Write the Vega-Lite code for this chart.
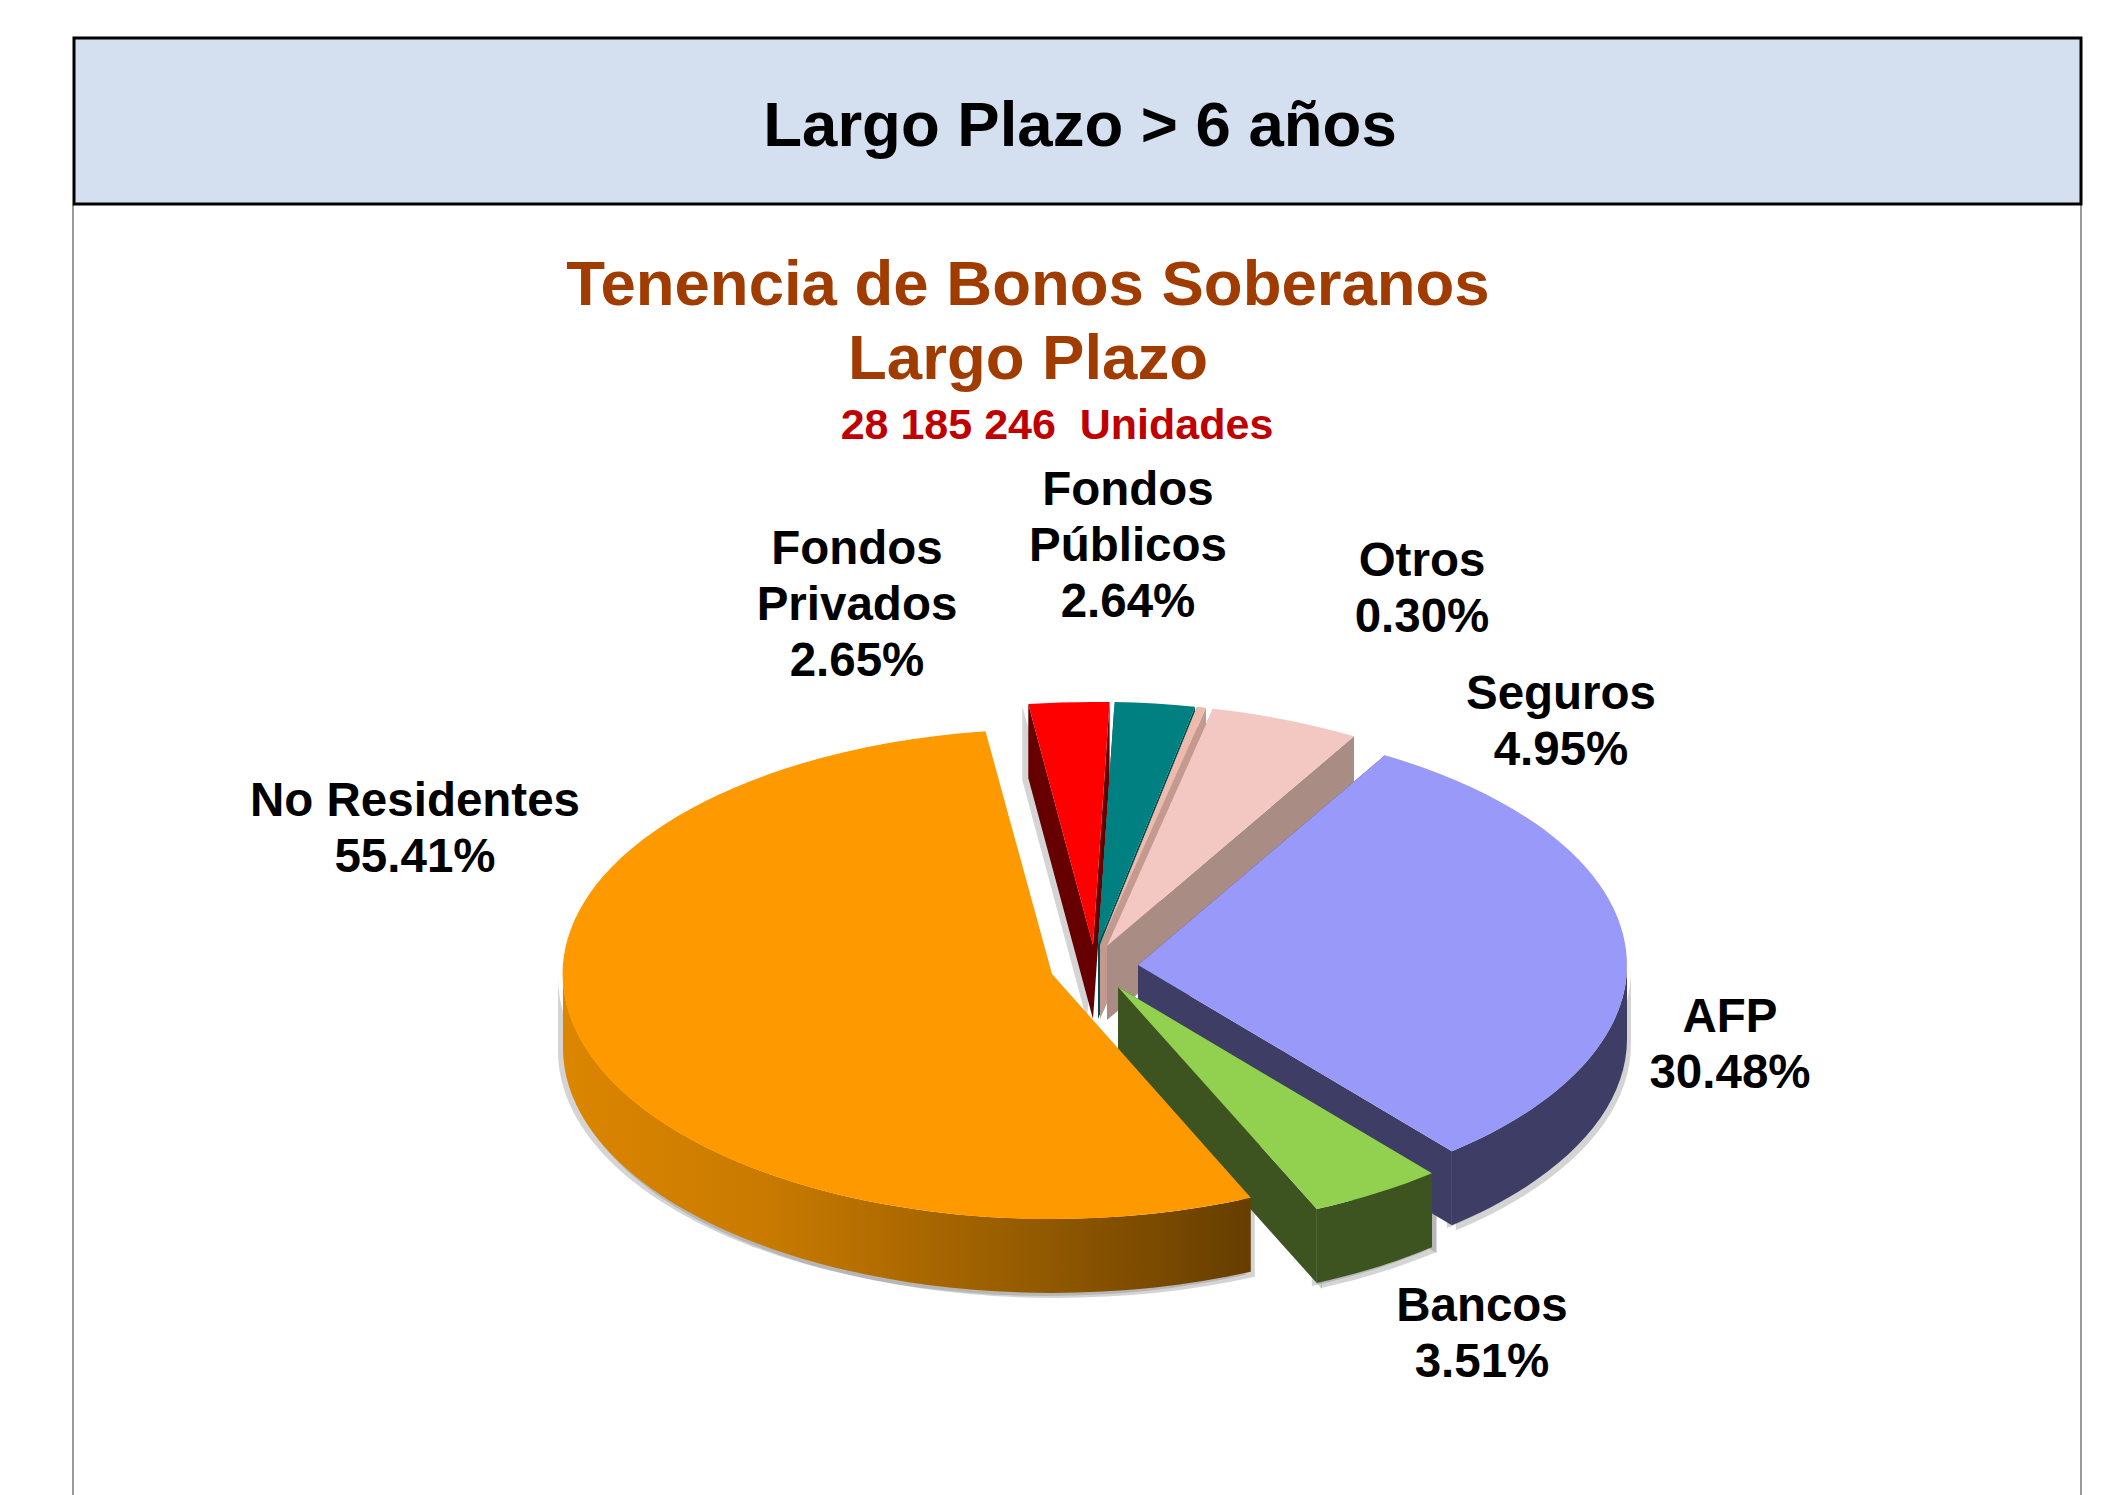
{
"$schema":"https://vega.github.io/schema/vega-lite/v6.json",
"width":2101,"height":1495,"padding":0,"autosize":{"type":"none"},"background":"#ffffff",
"view":{"stroke":null},
"config":{"text":{"font":"Liberation Sans","fontWeight":"bold"}},
"datasets":{
"sectors":[
{"sector":"Fondos Privados","share":2.65},
{"sector":"Fondos Públicos","share":2.64},
{"sector":"Otros","share":0.30},
{"sector":"Seguros","share":4.95},
{"sector":"AFP","share":30.48},
{"sector":"Bancos","share":3.51},
{"sector":"No Residentes","share":55.41}
],
"headings":[
{"heading":"Largo Plazo > 6 años","level":"banner"},
{"heading":"Tenencia de Bonos Soberanos","level":"title"},
{"heading":"Largo Plazo","level":"title"},
{"heading":"28 185 246 \u00a0Unidades","level":"subtitle"}
],
"frame":[{"part":"left"},{"part":"right"}],
"banner":[{"part":"banner"}]
},
"resolve":{"scale":{"fill":"independent","size":"independent","color":"independent"}},
"layer":[
{"data":{"name":"frame"},
 "mark":{"type":"rule","stroke":"#9a9a9a","strokeWidth":2},
 "transform":[{"calculate":"datum.part==='left'?73:2081","as":"lx"},{"calculate":"205","as":"ly0"},{"calculate":"1495","as":"ly1"}],
 "encoding":{"x":{"field":"lx","type":"quantitative","scale":null,"axis":null},"y":{"field":"ly0","type":"quantitative","scale":null,"axis":null},"y2":{"field":"ly1"}}},
{"data":{"name":"banner"},
 "mark":{"type":"rect","fill":"#d4dff0","stroke":"#000000","strokeWidth":3},
 "transform":[{"calculate":"74","as":"bx0"},{"calculate":"2081","as":"bx1"},{"calculate":"38","as":"by0"},{"calculate":"204","as":"by1"}],
 "encoding":{"x":{"field":"bx0","type":"quantitative","scale":null,"axis":null},"x2":{"field":"bx1"},"y":{"field":"by0","type":"quantitative","scale":null,"axis":null},"y2":{"field":"by1"}}},
{"data":{"name":"headings"},
 "mark":{"type":"text","align":"center","baseline":"middle"},
 "transform":[
  {"window":[{"op":"row_number","as":"n"}]},
  {"calculate":"[1080,1028,1028,1057][datum.n-1]","as":"hx"},
  {"calculate":"[127,286,360,426][datum.n-1]","as":"hy"}],
 "encoding":{
  "x":{"field":"hx","type":"quantitative","scale":null,"axis":null},
  "y":{"field":"hy","type":"quantitative","scale":null,"axis":null},
  "text":{"field":"heading"},
  "size":{"field":"level","type":"nominal","legend":null,"scale":{"type":"ordinal","domain":["banner","title","subtitle"],"range":[63.5,63.5,43]}},
  "color":{"field":"level","type":"nominal","legend":null,"scale":{"domain":["banner","title","subtitle"],"range":["#000000","#a03c00","#c00000"]}}
 }},
{"data":{"name":"sectors"},
 "resolve":{"scale":{"fill":"independent"}},
 "transform":[
  {"stack":"share","groupby":[],"as":["s0","s1"]},
  {"calculate":"-97.6+3.6*datum.s0","as":"t0"},
  {"calculate":"-97.6+3.6*datum.s1","as":"t1"},
  {"calculate":"datum.t0+3.4*max(0,1-abs(datum.t0-63)/10)","as":"a0"},
  {"calculate":"datum.t1+3.4*max(0,1-abs(datum.t1-63)/10)","as":"a1"},
  {"calculate":"datum.sector==='No Residentes'?245:243","as":"ry"},
  {"calculate":"{'Fondos Privados':1093,'Fondos Públicos':1098,'Otros':1100,'Seguros':1107,'AFP':1138,'Bancos':1118,'No Residentes':1052}[datum.sector]-1050.5","as":"cx"},
  {"calculate":"{'Fondos Privados':945,'Fondos Públicos':945,'Otros':945,'Seguros':946,'AFP':965,'Bancos':987,'No Residentes':974}[datum.sector]-747.5","as":"cy"},
  {"calculate":"round(10*(datum.cx+489*cos(datum.a0*PI/180)))/10","as":"x0"},
  {"calculate":"round(10*(datum.cy+datum.ry*sin(datum.a0*PI/180)))/10","as":"y0"},
  {"calculate":"round(10*(datum.cx+489*cos(datum.a1*PI/180)))/10","as":"x1"},
  {"calculate":"round(10*(datum.cy+datum.ry*sin(datum.a1*PI/180)))/10","as":"y1"},
  {"calculate":"max(datum.a0,0)","as":"r0"},
  {"calculate":"min(datum.a1,180)","as":"r1"},
  {"calculate":"'M'+datum.cx+' '+datum.cy+' L'+datum.x0+' '+datum.y0+' A489 '+datum.ry+' 0 '+(datum.a1-datum.a0>180?'1':'0')+' 1 '+datum.x1+' '+datum.y1+' Z'","as":"topPath"},
  {"calculate":"'M'+datum.cx+' '+datum.cy+' L'+datum.x0+' '+datum.y0+' L'+datum.x0+' '+(datum.y0+74)+' L'+datum.cx+' '+(datum.cy+74)+' Z M'+datum.cx+' '+datum.cy+' L'+datum.x1+' '+datum.y1+' L'+datum.x1+' '+(datum.y1+74)+' L'+datum.cx+' '+(datum.cy+74)+' Z'","as":"edgePath"},
  {"calculate":"round(10*(datum.cx+489*cos(datum.r0*PI/180)))/10","as":"rx0"},
  {"calculate":"round(10*(datum.cy+datum.ry*sin(datum.r0*PI/180)))/10","as":"ry0"},
  {"calculate":"round(10*(datum.cx+489*cos(datum.r1*PI/180)))/10","as":"rx1"},
  {"calculate":"round(10*(datum.cy+datum.ry*sin(datum.r1*PI/180)))/10","as":"ry1"},
  {"calculate":"'M'+datum.rx0+' '+datum.ry0+' A489 '+datum.ry+' 0 0 1 '+datum.rx1+' '+datum.ry1+' L'+datum.rx1+' '+(datum.ry1+74)+' A489 '+datum.ry+' 0 0 0 '+datum.rx0+' '+(datum.ry0+74)+' Z'","as":"rimPath"},
  {"calculate":"{'Fondos Privados':857,'Fondos Públicos':1128,'Otros':1422,'Seguros':1561,'AFP':1730,'Bancos':1482,'No Residentes':415}[datum.sector]","as":"lx"},
  {"calculate":"{'Fondos Privados':550,'Fondos Públicos':491,'Otros':562,'Seguros':695,'AFP':1018,'Bancos':1307,'No Residentes':802}[datum.sector]","as":"ly"},
  {"calculate":"replace(datum.sector,'Fondos ','Fondos\\n')+'\\n'+format(datum.share,'.2f')+'%'","as":"labelText"}
 ],
 "layer":[
  {"transform":[{"filter":"datum.r1>datum.r0"}],
   "mark":{"type":"point","filled":true,"opacity":0.3,"size":4,"fill":"#707070","stroke":null,"xOffset":4,"yOffset":5},
   "encoding":{"shape":{"field":"rimPath","type":"nominal","scale":null}}},
  {"transform":[{"filter":"datum.r1>datum.r0"}],
   "mark":{"type":"point","filled":true,"opacity":0.3,"size":4,"fill":"#707070","stroke":null,"xOffset":-5,"yOffset":3},
   "encoding":{"shape":{"field":"rimPath","type":"nominal","scale":null}}},
  {"transform":[{"filter":"datum.sector==='Bancos'"}],
   "mark":{"type":"point","filled":true,"opacity":0.3,"size":4,"fill":"#707070","stroke":null,"xOffset":5,"yOffset":6},
   "encoding":{"shape":{"field":"edgePath","type":"nominal","scale":null}}},
  {"transform":[{"filter":"datum.sector==='Fondos Privados'"}],
   "mark":{"type":"point","filled":true,"opacity":0.3,"size":4,"fill":"#707070","stroke":null,"xOffset":-6,"yOffset":2},
   "encoding":{"shape":{"field":"edgePath","type":"nominal","scale":null}}},
  {"transform":[{"filter":"datum.sector!=='No Residentes'"}],
   "mark":{"type":"point","filled":true,"opacity":1,"size":4,"stroke":null},
   "encoding":{"shape":{"field":"edgePath","type":"nominal","scale":null},
    "fill":{"field":"sector","type":"nominal","legend":null,"scale":{"domain":["Fondos Privados","Fondos Públicos","Otros","Seguros","AFP","Bancos"],"range":["#660000","#004d4d","#c49a90","#a98d85","#3d3d66","#3e5420"]}}}},
  {"transform":[{"filter":"datum.sector!=='No Residentes' && datum.r1>datum.r0"}],
   "mark":{"type":"point","filled":true,"opacity":1,"size":4,"stroke":null},
   "encoding":{"shape":{"field":"rimPath","type":"nominal","scale":null},
    "fill":{"field":"sector","type":"nominal","legend":null,"scale":{"domain":["Fondos Privados","Fondos Públicos","Otros","Seguros","AFP","Bancos"],"range":["#660000","#004d4d","#c49a90","#a98d85","#3d3d66","#3e5420"]}}}},
  {"transform":[{"filter":"datum.sector==='No Residentes'"}],
   "mark":{"type":"point","filled":true,"opacity":1,"size":4,"stroke":null,
    "fill":{"gradient":"linear","x1":0,"y1":0,"x2":1,"y2":0,"stops":[{"offset":0,"color":"#dc8600"},{"offset":0.3,"color":"#c87a00"},{"offset":0.64,"color":"#9a5e00"},{"offset":1,"color":"#663e00"}]}},
   "encoding":{"shape":{"field":"rimPath","type":"nominal","scale":null}}},
  {"mark":{"type":"point","filled":true,"opacity":1,"size":4,"stroke":null},
   "encoding":{"shape":{"field":"topPath","type":"nominal","scale":null},
    "fill":{"field":"sector","type":"nominal","legend":null,"scale":{"domain":["Fondos Privados","Fondos Públicos","Otros","Seguros","AFP","Bancos","No Residentes"],"range":["#ff0000","#008080","#edbbae","#f4c8c2","#9999fa","#92d050","#ff9900"]}}}},
  {"mark":{"type":"text","align":"center","baseline":"middle","fontSize":47.5,"lineBreak":"\n","lineHeight":56,"color":"#000000"},
   "encoding":{"x":{"field":"lx","type":"quantitative","scale":null,"axis":null},"y":{"field":"ly","type":"quantitative","scale":null,"axis":null},"text":{"field":"labelText"}}}
 ]}
]
}
